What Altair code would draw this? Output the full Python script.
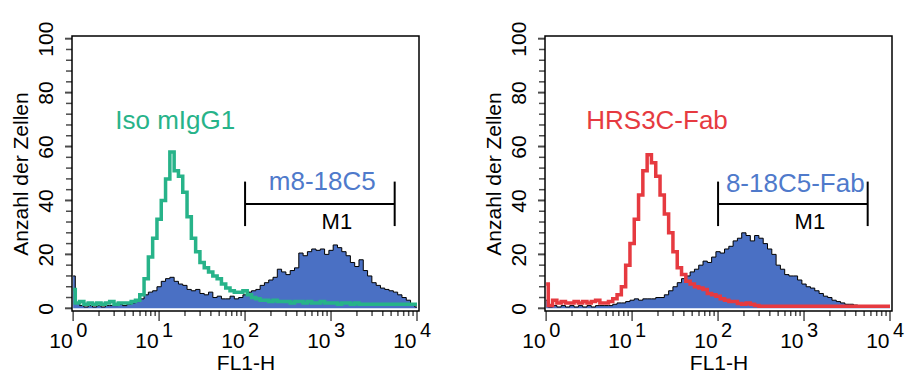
import altair as alt
import pandas as pd

# ---------------- data ----------------
# FL1-H channel centres: 20 channels per decade, 10^0 ... 10^4
N_BINS = 81
fl1 = [10 ** (k / 20) for k in range(N_BINS)]

# left panel: m8-18C5 (filled) and Iso mIgG1 (green line)
left_fill = [12, 2, 1, 0.5, 1, 0.5, 1, 0.5, 1, 1,
             1, 1.5, 1, 1.5, 2, 2.5, 3.5, 5, 6, 6.5,
             8, 10, 11, 11.5, 10, 9, 8.5, 7, 6.5, 7,
             5.5, 5, 6, 4, 4.5, 3.5, 3.5, 4.5, 3.5, 4,
             5, 6, 6.5, 7, 8.5, 9.5, 10.5, 11.5, 14.5, 13.5,
             12.5, 14, 15, 20.5, 19.5, 21, 22, 21.5, 22, 20,
             21.5, 23.5, 22.5, 21, 19.5, 17, 15.5, 18, 14, 12,
             9.5, 8.5, 7.5, 7, 6.5, 6, 5, 4, 3, 1.5,
             0.5]
left_iso = [7, 2, 2.5, 1.5, 2, 1.5, 2, 1.5, 2, 2.5,
            1.5, 2, 2, 2, 2.5, 3, 5, 11, 19, 26,
            33, 40, 48, 58, 51, 49, 43, 34, 26, 21,
            17, 15, 13.5, 12, 11, 9, 7.5, 6.5, 6, 6,
            6.5, 5, 4, 3.5, 3, 3, 2.5, 3, 2.5, 2.5,
            2.5, 2, 2.5, 2.5, 2, 2.5, 2, 2, 2.5, 2,
            2, 2, 1.5, 2, 2, 1.5, 2, 1.5, 1.5, 1.5,
            1.5, 1.5, 1.5, 1.5, 1.5, 1.5, 1.5, 1.5, 1.5, 1.5,
            1.5]

# right panel: 8-18C5-Fab (filled) and HRS3C-Fab (red line)
right_fill = [3, 0.5, 1, 0.5, 1, 0.5, 1, 0.5, 1, 0.5,
              1, 0.5, 1, 1, 1, 1, 1.5, 2, 2, 2.5,
              3, 3.5, 3, 3.5, 3.5, 3.5, 4, 4, 5, 6.5,
              8, 9.5, 11, 12, 13.5, 14.5, 16, 17.5, 17, 19,
              21, 20.5, 22, 23, 25, 26, 28, 27, 25, 27,
              26, 24, 22, 20, 16, 14.5, 12.5, 12, 12, 10.5,
              9, 8, 7.5, 6.5, 5.5, 4.5, 4, 3, 2.5, 2,
              1.5, 1.5, 1.2, 1, 1, 0.5, 0.3, 0.3, 0.3, 0.3,
              0.3]
right_hrs = [9, 1, 3, 2, 2.5, 2, 2, 2.5, 2, 2.5,
             2, 2.5, 3, 2, 2, 2.5, 3.5, 5, 8, 16,
             24, 33, 42, 51, 57, 54, 49, 42, 35, 28,
             21, 15, 12.5, 10, 9, 8, 7.5, 7, 5.5, 5,
             4.5, 3.5, 3, 2.5, 2.5, 1.8, 1.5, 2, 1.5, 1,
             0.8, 0.8, 0.8, 0.8, 0.8, 0.8, 0.8, 0.8, 0.8, 0.8,
             0.8, 0.8, 0.8, 0.8, 0.8, 0.8, 0.8, 0.8, 0.8, 0.8,
             0.8, 0.8, 0.8, 0.8, 0.8, 0.8, 0.8, 0.8, 0.8, 0.8,
             0.8]

decades = [1, 10, 100, 1000, 10000]
exponents = ["0", "1", "2", "3", "4"]
x_minor = [m * 10 ** e for e in range(4) for m in range(2, 10)]
y_major = [0, 20, 40, 60, 80, 100]
y_minor = [v for v in range(0, 101, 4) if v % 20 != 0]
marker_start, marker_end = 100, 5500   # M1 gate
marker_level, marker_low, marker_high = 38.7, 30.5, 47

# ---------------- styles ----------------
FONT = "Liberation Sans, Arial, Helvetica, sans-serif"
FILL = "#4a70c4"
BLUE_TXT = "#4f7acb"
GREEN = "#27b389"
RED = "#e63a40"
X_MIN, X_MAX = 0.97, 10550

x_scale = alt.Scale(type="log", domain=[X_MIN, X_MAX], nice=False)
y_scale = alt.Scale(domain=[-1, 101], nice=False, zero=False)

x_axis = alt.Axis(
    values=decades, ticks=False,
    labelExpr="'10'",
    labelAlign="right", labelBaseline="alphabetic", labelOffset=-1,
    labelPadding=36, labelFlush=False, labelOverlap=False,
    labelFont=FONT, labelFontSize=21, labelColor="black",
    domain=False, grid=False,
    title="FL1-H", titleFont=FONT, titleFontSize=21, titleFontWeight="normal",
    titleColor="black", titlePadding=1,
)
y_axis = alt.Axis(
    values=y_major, ticks=False,
    labelAngle=-90, labelAlign="center", labelBaseline="alphabetic",
    labelPadding=20, labelFlush=False, labelOverlap=False,
    labelFont=FONT, labelFontSize=21, labelColor="black",
    domain=False, grid=False,
    title="Anzahl der Zellen", titleFont=FONT, titleFontSize=21,
    titleFontWeight="normal", titleColor="black", titlePadding=4,
)


def tick_layers():
    xmaj = alt.Chart(pd.DataFrame({"v": decades})).mark_tick(
        orient="vertical", size=10, thickness=1.5, color="black", yOffset=5).encode(
        x="v:Q", y=alt.datum(-1))
    xmin = alt.Chart(pd.DataFrame({"v": x_minor})).mark_tick(
        orient="vertical", size=5, thickness=1.5, color="black", yOffset=2.5).encode(
        x="v:Q", y=alt.datum(-1))
    ymaj = alt.Chart(pd.DataFrame({"v": y_major})).mark_tick(
        orient="horizontal", size=7, thickness=2, color="black", xOffset=-3.5).encode(
        y="v:Q", x=alt.datum(X_MIN))
    ymin = alt.Chart(pd.DataFrame({"v": y_minor})).mark_tick(
        orient="horizontal", size=6, thickness=1.5, color="black", xOffset=-3).encode(
        y="v:Q", x=alt.datum(X_MIN))
    return [xmaj, xmin, ymaj, ymin]


def panel(fill_vals, line_vals, line_color, line_label, line_lx, line_ly,
          fill_label, fill_lx, fill_ly):
    df = pd.DataFrame({"fl1": fl1, "fill": fill_vals, "line": line_vals})
    base = alt.Chart(df)
    area = base.mark_area(interpolate="step", color=FILL).encode(
        x=alt.X("fl1:Q", scale=x_scale, axis=x_axis),
        y=alt.Y("fill:Q", scale=y_scale, axis=y_axis),
    )
    outline = base.mark_line(interpolate="step", color="black", strokeWidth=1).encode(
        x="fl1:Q", y="fill:Q")
    curve = base.mark_line(interpolate="step", color=line_color, strokeWidth=3.5).encode(
        x="fl1:Q", y="line:Q")

    gate = pd.DataFrame({"a": [marker_start], "b": [marker_end],
                         "lvl": [marker_level], "lo": [marker_low], "hi": [marker_high]})
    gbase = alt.Chart(gate)
    hline = gbase.mark_rule(color="black", strokeWidth=2).encode(x="a:Q", x2="b:Q", y="lvl:Q")
    vl = gbase.mark_rule(color="black", strokeWidth=2).encode(x="a:Q", y="lo:Q", y2="hi:Q")
    vr = gbase.mark_rule(color="black", strokeWidth=2).encode(x="b:Q", y="lo:Q", y2="hi:Q")
    m1 = alt.Chart(pd.DataFrame({"x": [1170], "y": [32], "t": ["M1"]})).mark_text(
        font=FONT, fontSize=22, color="black", baseline="middle").encode(
        x="x:Q", y="y:Q", text="t:N")

    labs = pd.DataFrame({"x": [line_lx, fill_lx], "y": [line_ly, fill_ly],
                         "t": [line_label, fill_label], "c": [line_color, BLUE_TXT]})
    labels = alt.Chart(labs).mark_text(font=FONT, fontSize=26, baseline="middle").encode(
        x="x:Q", y="y:Q", text="t:N", color=alt.Color("c:N", scale=None))

    expo = alt.Chart(pd.DataFrame({"x": decades, "e": exponents})).mark_text(
        font=FONT, fontSize=20, align="left", baseline="alphabetic", dx=3, dy=26,
        color="black").encode(x="x:Q", y=alt.datum(-1), text="e:N")

    return alt.layer(area, outline, curve, hline, vl, vr, m1, labels, expo,
                     *tick_layers()).properties(width=347, height=275)


left = panel(left_fill, left_iso, GREEN, "Iso mIgG1", 15.4, 69.5,
             "m8-18C5", 790, 47)
right = panel(right_fill, right_hrs, RED, "HRS3C-Fab", 19.5, 69.5,
              "8-18C5-Fab", 790, 46)

chart = alt.hconcat(left, right, spacing=50).properties(
    padding={"left": 9, "top": 20, "right": 5, "bottom": 0},
    background="white",
).configure_view(stroke="black", strokeWidth=1.5)

chart.save("out.html", embed_options={"renderer": "svg", "actions": False})
